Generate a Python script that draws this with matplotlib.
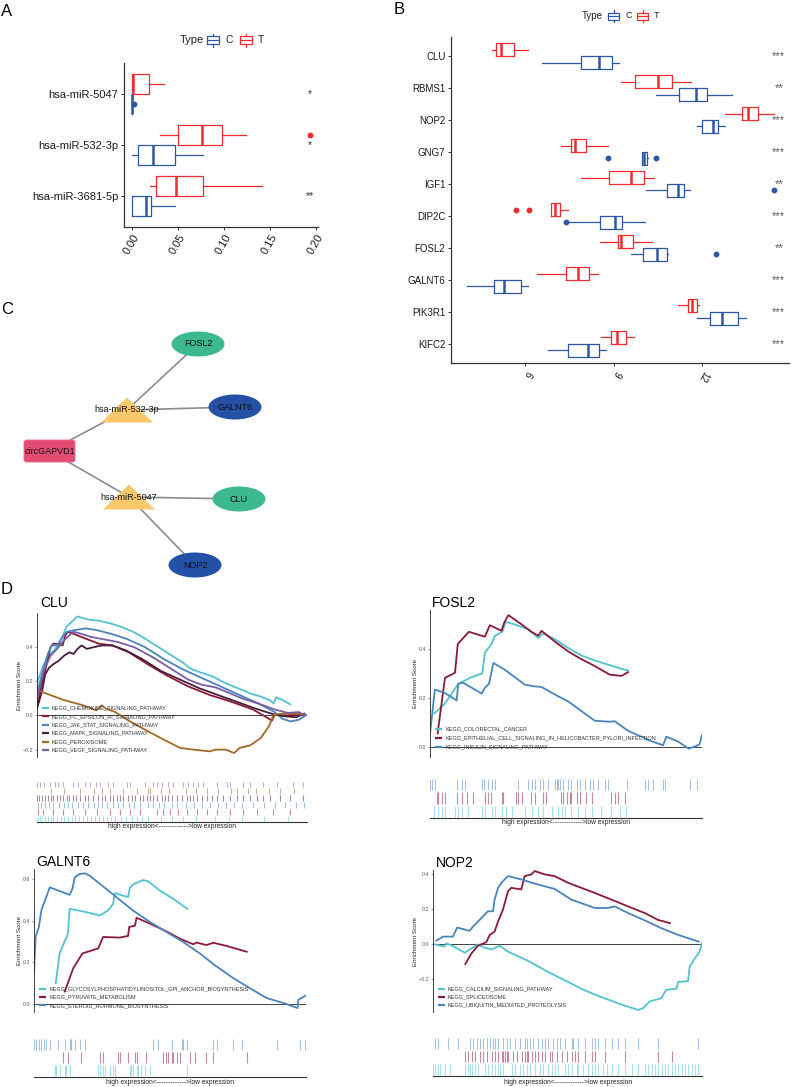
import matplotlib
matplotlib.use('Agg')
import matplotlib.pyplot as plt
from matplotlib.patches import Rectangle, Ellipse, Polygon, FancyBboxPatch

plt.rcParams['font.family'] = ['Liberation Sans', 'DejaVu Sans']
NARROW = ['Liberation Sans Narrow', 'Liberation Sans', 'DejaVu Sans']

# ---------------- DATA ----------------
# Panel A : five-number summaries [whislo, q1, median, q3, whishi]
A_MIRNAS = ['hsa-miR-5047', 'hsa-miR-532-3p', 'hsa-miR-3681-5p']
A_T = [[0.000, 0.000, 0.001, 0.018, 0.035],
       [0.030, 0.050, 0.076, 0.098, 0.124],
       [0.019, 0.026, 0.047, 0.077, 0.141]]
A_C = [[0.000, 0.000, 0.000, 0.000, 0.000],
       [0.000, 0.0065, 0.023, 0.046, 0.077],
       [0.000, 0.000, 0.015, 0.020, 0.046]]
A_T_OUT = [[], [0.193], []]
A_C_OUT = [[0.002], [], []]
A_SIG = ['*', '*', '**']
A_XTICKS = [0.00, 0.05, 0.10, 0.15, 0.20]
A_XLABELS = ['0.00', '0.05', '0.10', '0.15', '0.20']

# Panel B
B_GENES = ['CLU', 'RBMS1', 'NOP2', 'GNG7', 'IGF1', 'DIP2C', 'FOSL2', 'GALNT6', 'PIK3R1', 'KIFC2']
B_T = [[4.87, 5.01, 5.19, 5.63, 6.11],
       [9.24, 9.73, 10.52, 10.99, 11.63],
       [12.79, 13.34, 13.57, 13.90, 14.43],
       [7.23, 7.56, 7.69, 8.08, 8.82],
       [7.89, 8.86, 9.60, 10.05, 10.36],
       [6.87, 6.89, 7.03, 7.18, 7.47],
       [8.55, 9.16, 9.24, 9.66, 10.32],
       [6.40, 7.38, 7.81, 8.18, 8.46],
       [11.19, 11.54, 11.66, 11.84, 11.89],
       [8.59, 8.92, 9.11, 9.44, 9.68]]
B_C = [[6.56, 7.91, 8.51, 8.94, 9.20],
       [10.43, 11.23, 11.81, 12.18, 13.03],
       [11.82, 11.99, 12.38, 12.55, 12.77],
       [9.96, 9.98, 10.05, 10.14, 10.16],
       [10.09, 10.80, 11.20, 11.40, 11.58],
       [7.47, 8.55, 9.05, 9.29, 10.07],
       [9.59, 9.99, 10.46, 10.80, 10.86],
       [4.02, 4.94, 5.30, 5.85, 6.09],
       [11.82, 12.27, 12.69, 13.23, 13.49],
       [6.79, 7.45, 8.12, 8.50, 8.73]]
B_T_OUT = [[], [], [], [], [], [5.68, 6.14], [], [], [], []]
B_C_OUT = [[], [], [], [8.82, 10.43], [14.44], [7.40], [12.49], [], [], []]
B_SIG = ['***', '**', '***', '***', '**', '***', '**', '***', '***', '***']
B_XTICKS = [6, 9, 12]

# Panel C network
NET_NODES = ['circGAPVD1', 'hsa-miR-532-3p', 'hsa-miR-5047', 'FOSL2', 'GALNT6', 'CLU', 'NOP2']
NET_EDGES = [('circGAPVD1', 'hsa-miR-532-3p'), ('circGAPVD1', 'hsa-miR-5047'),
             ('hsa-miR-532-3p', 'FOSL2'), ('hsa-miR-532-3p', 'GALNT6'),
             ('hsa-miR-5047', 'CLU'), ('hsa-miR-5047', 'NOP2')]

# Panel D : GSEA running enrichment scores (x = rank position, % of list)
CLU_PATHWAYS = ['KEGG_CHEMOKINE_SIGNALING_PATHWAY', 'KEGG_FC_EPSILON_RI_SIGNALING_PATHWAY',
                'KEGG_JAK_STAT_SIGNALING_PATHWAY', 'KEGG_MAPK_SIGNALING_PATHWAY',
                'KEGG_PEROXISOME', 'KEGG_VEGF_SIGNALING_PATHWAY']
CLU_CHEMOKINE_X = [0, 2.5, 5, 8.4, 10.9, 13, 14.9, 17, 19.6, 23, 27, 31, 35.6, 39, 43, 47, 50.5, 54, 56.7, 60, 65.3, 69, 72.8, 76, 79, 83, 86.4, 87.6, 88.6, 91, 93.8]
CLU_CHEMOKINE_ES = [0.19, 0.30, 0.36, 0.42, 0.52, 0.55, 0.58, 0.57, 0.56, 0.555, 0.54, 0.52, 0.49, 0.46, 0.42, 0.38, 0.345, 0.31, 0.276, 0.255, 0.227, 0.195, 0.169, 0.15, 0.129, 0.11, 0.088, 0.07, 0.106, 0.09, 0.065]
CLU_FC_X = [0, 2, 3, 5, 6, 8.5, 9.5, 10.5, 11.5, 14, 18, 23, 28, 34, 41, 48, 56, 64, 72, 80, 86, 87, 88, 92, 96, 99]
CLU_FC_ES = [0.05, 0.20, 0.26, 0.40, 0.42, 0.42, 0.41, 0.47, 0.49, 0.475, 0.45, 0.42, 0.41, 0.37, 0.30, 0.235, 0.17, 0.12, 0.08, 0.035, -0.02, -0.03, 0.005, 0.0, 0.005, 0.01]
CLU_JAK_X = [0, 2, 4, 5.5, 7.5, 9, 11, 14, 18, 22, 27, 33, 40, 47, 54, 61, 68, 75, 82, 88, 91, 94, 97, 99, 100]
CLU_JAK_ES = [0.13, 0.25, 0.36, 0.41, 0.41, 0.45, 0.49, 0.50, 0.51, 0.50, 0.48, 0.45, 0.40, 0.33, 0.27, 0.22, 0.17, 0.12, 0.07, 0.02, -0.02, -0.035, -0.025, -0.005, 0.005]
CLU_MAPK_X = [0, 2, 3, 4.5, 6, 8, 10, 12, 13.5, 15, 16.5, 18.5, 21, 24, 28, 33, 39, 46, 53, 60, 67, 74, 81, 88, 92, 96, 99]
CLU_MAPK_ES = [0.04, 0.15, 0.24, 0.28, 0.30, 0.32, 0.35, 0.37, 0.36, 0.39, 0.41, 0.39, 0.40, 0.41, 0.41, 0.38, 0.33, 0.26, 0.21, 0.16, 0.12, 0.08, 0.04, 0.005, -0.005, -0.01, 0.01]
CLU_PEROX_X = [1.5, 10, 17, 22, 24, 25.5, 29, 35, 42, 48, 53, 58, 64, 66, 70, 73, 75, 79, 83, 86, 87.5, 90, 95, 99]
CLU_PEROX_ES = [0.14, 0.09, 0.06, 0.03, 0.06, 0.04, 0.02, -0.04, -0.10, -0.15, -0.19, -0.20, -0.21, -0.20, -0.20, -0.22, -0.19, -0.175, -0.13, -0.06, 0.0, 0.01, 0.01, 0.005]
CLU_VEGF_X = [0, 2.5, 5, 8, 10, 12, 13.5, 16, 20, 25, 30, 36, 43, 50, 56, 61, 66, 70, 76, 82, 88, 93, 97, 99]
CLU_VEGF_ES = [0.10, 0.26, 0.35, 0.40, 0.44, 0.47, 0.49, 0.48, 0.46, 0.445, 0.43, 0.40, 0.34, 0.27, 0.21, 0.18, 0.165, 0.14, 0.10, 0.07, 0.035, 0.015, 0.02, 0.0]
CLU_CHEMOKINE_HITS = [0.2, 1, 2, 3, 4, 5, 6, 7.5, 9, 10, 11.5, 13, 14, 15.5, 17, 18.5, 20, 21.5, 23, 24.5, 26, 27.5, 29, 31, 33, 35, 37, 39, 41, 46, 50, 54, 59, 66, 71, 76, 84, 93]
CLU_FC_HITS = [0.5, 2.3, 6.0, 9.8, 13.5, 17.8, 22.1, 27.0, 30.7, 34.4, 38.1, 44.3, 46.8, 49.3, 52.3, 55.4, 59.1, 62.8, 66.5, 71.5, 76.4, 81.4, 87.5, 93.7]
CLU_JAK_HITS = [0.5, 1.5, 3, 4.5, 6, 8, 10, 11.5, 13, 15, 17, 19, 21, 22.5, 24, 26, 28, 30, 32, 34, 36, 38, 41, 43, 45, 47, 50, 52, 55, 58, 61, 64, 67, 70, 73, 76, 80, 84, 88, 92, 96, 99]
CLU_MAPK_HITS = [0.1, 0.9, 1.7, 3.0, 4.2, 5.1, 6.0, 7.3, 8.5, 9.8, 11.0, 12.0, 13.5, 14.4, 15.9, 17.8, 19.0, 20.9, 22.7, 24.0, 25.2, 27.0, 28.3, 29.8, 30.7, 32.0, 33.8, 35.1, 36.3, 38.1, 39.4, 40.6, 41.9, 43.1, 44.3, 46.2, 47.4, 48.6, 49.9, 51.7, 53.6, 55.4, 56.7, 57.9, 59.1, 61.0, 62.8, 64.7, 66.5, 69.0, 71.5, 74.0, 76.4, 78.9, 81.4, 83.8, 86.3, 90.0, 93.7, 98.6]
CLU_PEROX_HITS = [5, 10, 16, 21, 24, 27, 32, 37, 41, 42, 46, 49, 55, 59, 63, 67, 72, 74, 78, 81, 86, 90, 95, 100]
CLU_VEGF_HITS = [0.1, 1.1, 2.6, 4.8, 6.7, 7.9, 9.8, 13.5, 15.3, 17.8, 19.6, 21.9, 23.3, 26.4, 28.3, 33.2, 34.4, 40, 43.1, 44.3, 46.2, 48.6, 50.5, 54.2, 56, 57.9, 59.7, 61.6, 66.5, 70.2, 71.5, 76.4, 78.9, 83.8, 88.8, 94.9, 98.6, 99.9]

FOSL2_PATHWAYS = ['KEGG_COLORECTAL_CANCER',
                  'KEGG_EPITHELIAL_CELL_SIGNALING_IN_HELICOBACTER_PYLORI_INFECTION',
                  'KEGG_INSULIN_SIGNALING_PATHWAY']
FOSL2_CRC_X = [1.6, 5.5, 10.4, 15.3, 19.2, 20.2, 22.6, 23.9, 26.6, 27.8, 31.2, 36.1, 39.8, 41.6, 45.9, 50.8, 55.7, 60.6, 65.5, 70.4, 72.8]
FOSL2_CRC_ES = [0.137, 0.177, 0.258, 0.285, 0.30, 0.386, 0.42, 0.454, 0.47, 0.51, 0.50, 0.48, 0.445, 0.464, 0.44, 0.404, 0.373, 0.353, 0.336, 0.319, 0.312]
FOSL2_EPI_X = [2.8, 5.5, 9.2, 10.2, 14.3, 20.2, 22.0, 26.3, 27.3, 28.8, 33.7, 37.3, 39.8, 41.0, 45.9, 50.8, 55.7, 60.6, 66.1, 70.4, 72.8]
FOSL2_EPI_ES = [0.055, 0.282, 0.303, 0.42, 0.47, 0.45, 0.497, 0.474, 0.508, 0.538, 0.50, 0.47, 0.454, 0.474, 0.43, 0.39, 0.358, 0.33, 0.295, 0.29, 0.305]
FOSL2_INS_X = [0, 1.8, 5.5, 9.8, 10.4, 12.2, 19.0, 20.2, 21.7, 23.3, 27.5, 34.9, 38.6, 41.0, 45.9, 50.8, 55.7, 60.6, 66.1, 67.9, 72.8, 77.7, 80.2, 85.7, 86.9, 91.2, 95.1, 97.9, 99.1, 100]
FOSL2_INS_ES = [0.055, 0.234, 0.22, 0.19, 0.258, 0.262, 0.218, 0.242, 0.258, 0.343, 0.315, 0.254, 0.247, 0.245, 0.214, 0.186, 0.146, 0.107, 0.103, 0.105, 0.066, 0.042, 0.028, 0.007, 0.042, 0.022, -0.007, 0.004, 0.011, 0.049]
FOSL2_CRC_HITS = [1.6, 3, 4.3, 5.5, 9.2, 10.4, 11.6, 14, 19, 20.2, 22.7, 23.9, 26.3, 27.8, 30, 35, 37.4, 39.8, 41.6, 44.7, 47.2, 48.4, 49.6, 52, 54.5, 57, 59.4, 63, 66.7, 70, 72]
FOSL2_EPI_HITS = [2.4, 3, 4.3, 5.5, 9.8, 11.6, 13.5, 15.9, 20.2, 21.4, 22.6, 26.3, 26.9, 31.8, 32.4, 33.7, 37.3, 38.6, 41.6, 42.8, 48.3, 49, 50.2, 51.4, 52, 53.9, 55, 57.5, 59.4, 66.7, 67.9, 69.2, 71.6]
FOSL2_INS_HITS = [0, 0.6, 1.8, 9.8, 11.6, 12.9, 19, 20, 21.5, 22.7, 23.9, 32.5, 36, 37.4, 38.6, 40.4, 41.7, 43.5, 46, 46.6, 47.2, 47.8, 49, 50.9, 52, 53.9, 55, 57, 58.8, 60, 61.9, 64.3, 65.6, 72.3, 79, 80.3, 82, 85.8, 86.4, 95.6, 98, 100]

GALNT6_PATHWAYS = ['KEGG_GLYCOSYLPHOSPHATIDYLINOSITOL_GPI_ANCHOR_BIOSYNTHESIS',
                   'KEGG_PYRUVATE_METABOLISM', 'KEGG_STEROID_HORMONE_BIOSYNTHESIS']
GALNT6_GPI_X = [8.0, 9.4, 12.5, 13.1, 19.3, 24.2, 27.2, 29.1, 29.7, 34.6, 35.2, 36.7, 40.1, 42.0, 46.3, 51.2, 56.4]
GALNT6_GPI_ES = [0.10, 0.243, 0.338, 0.457, 0.441, 0.425, 0.449, 0.481, 0.532, 0.513, 0.557, 0.576, 0.595, 0.589, 0.544, 0.505, 0.457]
GALNT6_PYR_X = [11.3, 14.4, 17.8, 23.6, 25.4, 31.5, 34.6, 35.0, 37.1, 37.7, 42.6, 48.7, 53.6, 58.5, 59.8, 63.4, 65.9, 70.8, 78.2]
GALNT6_PYR_ES = [0.06, 0.171, 0.243, 0.267, 0.322, 0.319, 0.327, 0.37, 0.376, 0.414, 0.386, 0.349, 0.314, 0.287, 0.295, 0.283, 0.294, 0.279, 0.251]
GALNT6_STE_X = [0, 0.6, 1.8, 2.7, 5.8, 13.1, 14.1, 15.0, 16.8, 18.7, 20.5, 30.3, 36.4, 42.6, 48.7, 54.8, 61.0, 65.9, 73.3, 79.4, 85.5, 91.7, 96.9, 97.2, 100]
GALNT6_STE_ES = [0.148, 0.322, 0.37, 0.449, 0.56, 0.524, 0.552, 0.608, 0.624, 0.627, 0.616, 0.513, 0.449, 0.394, 0.346, 0.298, 0.243, 0.192, 0.124, 0.076, 0.029, 0.005, -0.019, 0.021, 0.041]
GALNT6_GPI_HITS = [7.6, 8.2, 9.4, 11.3, 11.9, 13.1, 23.6, 24.2, 25.4, 26, 27.9, 29.1, 29.7, 35.2, 35.8, 36.4, 37.7, 38.3, 39.5, 40.7, 42.6, 56.1]
GALNT6_PYR_HITS = [10.7, 12.5, 17.4, 24.2, 25.4, 30.9, 31.5, 34.6, 37.1, 37.7, 41.3, 47.5, 48.7, 49.3, 50.6, 51.2, 52.4, 53.6, 57.3, 59.1, 63.4, 65.9, 78.2]
GALNT6_STE_HITS = [0, 0.9, 1.8, 2.7, 3.7, 4.5, 5.8, 8.8, 11.3, 13.1, 13.7, 15, 16.8, 18.7, 43.8, 45.6, 50.6, 54.3, 54.8, 56.1, 65.9, 67.1, 73.3, 76.3, 89.2, 97.8, 99.6]

NOP2_PATHWAYS = ['KEGG_CALCIUM_SIGNALING_PATHWAY', 'KEGG_SPLICEOSOME',
                 'KEGG_UBIQUITIN_MEDIATED_PROTEOLYSIS']
NOP2_CAL_X = [0, 4.3, 5.0, 7.4, 11.8, 14.3, 16.7, 19.2, 21.7, 24.8, 27.9, 35.3, 42.8, 50.2, 56.4, 62.6, 70.0, 76.2, 78.1, 80.5, 84.9, 86.7, 90.5, 91.1, 94.8, 95.4, 97.3, 99.1, 100]
NOP2_CAL_ES = [0, -0.015, 0.004, -0.012, -0.05, -0.025, -0.002, -0.021, -0.031, -0.01, -0.044, -0.096, -0.16, -0.217, -0.265, -0.304, -0.346, -0.377, -0.367, -0.329, -0.31, -0.262, -0.256, -0.217, -0.213, -0.131, -0.083, -0.044, 0.004]
NOP2_SPL_X = [12.0, 14.3, 16.7, 19.8, 21.1, 22.9, 24.2, 26.0, 27.9, 29.1, 32.8, 34.1, 36.6, 37.8, 41.5, 45.2, 50.2, 55.1, 60.1, 66.3, 72.5, 78.7, 83.6, 88.1]
NOP2_SPL_ES = [-0.115, -0.054, -0.01, 0.01, 0.052, 0.071, 0.129, 0.196, 0.302, 0.321, 0.312, 0.388, 0.398, 0.417, 0.398, 0.388, 0.35, 0.321, 0.292, 0.254, 0.215, 0.177, 0.138, 0.119]
NOP2_UBQ_X = [1.2, 3.7, 7.4, 9.0, 13.6, 14.9, 18.0, 20.4, 22.3, 22.9, 24.2, 25.4, 27.9, 32.8, 39.0, 45.2, 51.4, 60.1, 65.1, 67.5, 72.5, 78.7, 84.9, 91.1, 98.8]
NOP2_UBQ_ES = [0.019, 0.042, 0.042, 0.094, 0.075, 0.10, 0.148, 0.187, 0.187, 0.254, 0.321, 0.35, 0.388, 0.369, 0.34, 0.315, 0.254, 0.206, 0.206, 0.215, 0.177, 0.135, 0.09, 0.052, 0.013]
NOP2_CAL_HITS = [0.1, 0.7, 2.0, 2.6, 4.5, 6.3, 11.9, 13.1, 13.8, 14.4, 15.6, 16.9, 19.3, 20.6, 21.8, 23.0, 24.3, 24.9, 26.1, 29.2, 30.5, 32.3, 33.6, 34.8, 36.1, 37.9, 39.8, 41.0, 42.9, 44.1, 45.4, 46.6, 49.1, 50.3, 51.5, 53.4, 54.0, 55.9, 57.7, 59.0, 60.2, 61.5, 63.3, 64.6, 66.4, 68.9, 71.4, 73.9, 76.3, 78.8, 80.0, 81.3, 82.5, 83.8, 85.0, 86.2, 87.5, 88.7, 90.0, 91.2, 92.4, 93.7, 94.9, 96.2, 97.4, 98.6, 99.9]
NOP2_SPL_HITS = [11.9, 13.1, 14.4, 15.6, 17.5, 18.7, 20.0, 21.8, 23.0, 24.3, 25.5, 26.1, 26.8, 27.4, 28.0, 29.9, 31.1, 33.0, 34.2, 34.8, 35.4, 36.7, 37.9, 39.2, 40.4, 41.6, 43.5, 44.1, 46.0, 47.8, 49.7, 51.5, 52.8, 54.0, 56.5, 59.0, 60.2, 63.9, 71.4, 83.8, 88.7]
NOP2_UBQ_HITS = [0.7, 2.0, 5.7, 9.4, 13.8, 15.0, 16.2, 17.5, 18.7, 20.0, 21.2, 22.4, 23.0, 24.3, 26.1, 27.4, 28.6, 30.5, 32.3, 34.2, 34.8, 36.1, 37.3, 39.2, 40.4, 41.6, 42.9, 44.7, 46.0, 47.2, 49.1, 51.5, 52.2, 54.0, 56.5, 59.0, 60.2, 61.5, 63.9, 66.4, 68.9, 71.4, 76.3, 83.8, 98.6]

# ---------------- STYLE / LAYOUT ----------------
W, H = 791, 1087
fig = plt.figure(figsize=(W / 100, H / 100), dpi=100)

C_BLUE = '#2E56A6'
C_RED = '#EE2B30'
G_CYAN = '#52C3D1'
G_DRED = '#8A1B36'
G_STEEL = '#4A84BC'
G_DPURP = '#4B1C40'
G_BROWN = '#A56826'
G_PURP = '#7B5CA8'


def add_ax(x0, y0, x1, y1, **kw):
    return fig.add_axes([x0 / W, 1 - y1 / H, (x1 - x0) / W, (y1 - y0) / H], **kw)


def draw_box(ax, summ, outl, pos, col):
    st = dict(whislo=summ[0], q1=summ[1], med=summ[2], q3=summ[3], whishi=summ[4], fliers=outl)
    ax.bxp([st], positions=[pos], widths=0.4, orientation='horizontal', showcaps=False,
           boxprops=dict(color=col, lw=0.9), whiskerprops=dict(color=col, lw=0.9),
           medianprops=dict(color=col, lw=1.8, solid_capstyle='butt'),
           flierprops=dict(marker='o', markerfacecolor=col, markeredgecolor=col, markersize=3.2))


def style_box_axes(ax):
    for s in ('top', 'right'):
        ax.spines[s].set_visible(False)
    for s in ('left', 'bottom'):
        ax.spines[s].set_color('#333333')
        ax.spines[s].set_linewidth(0.9)
    ax.tick_params(length=2.5, width=0.7, color='#333333', pad=1.5)


# ---- Panel A ----
axA = add_ax(124, 63, 318, 227)
posA = [3, 2, 1]
for i in range(len(A_MIRNAS)):
    draw_box(axA, A_T[i], A_T_OUT[i], posA[i] + 0.2, C_RED)
    draw_box(axA, A_C[i], A_C_OUT[i], posA[i] - 0.2, C_BLUE)
    axA.text(0.193, posA[i], A_SIG[i], ha='center', va='center', fontsize=7.5, color='#333333')
axA.set_xlim(-0.009, 0.2018)
axA.set_ylim(0.39, 3.61)
axA.set_yticks(posA)
axA.set_yticklabels(A_MIRNAS, fontsize=8, color='#1a1a1a')
axA.set_xticks(A_XTICKS)
axA.set_xticklabels(A_XLABELS, rotation=60, ha='right', va='top', rotation_mode='anchor',
                    fontsize=8, color='#1a1a1a')
style_box_axes(axA)

# ---- Panel B ----
axB = add_ax(451, 37, 789, 363)
posB = list(range(len(B_GENES), 0, -1))
for i in range(len(B_GENES)):
    draw_box(axB, B_T[i], B_T_OUT[i], posB[i] + 0.2, C_RED)
    draw_box(axB, B_C[i], B_C_OUT[i], posB[i] - 0.2, C_BLUE)
    axB.text(14.6, posB[i], B_SIG[i], ha='center', va='center', fontsize=8, color='#555555')
axB.set_xlim(3.49, 14.95)
axB.set_ylim(0.4, len(B_GENES) + 0.6)
axB.set_yticks(posB)
axB.set_yticklabels(B_GENES, fontsize=7, color='#1a1a1a')
axB.set_xticks(B_XTICKS)
axB.set_xticklabels([str(v) for v in B_XTICKS], rotation=240, ha='left', va='bottom',
                    rotation_mode='anchor', fontsize=7, color='#1a1a1a')
style_box_axes(axB)


# ---- Panel D : GSEA ----
def gsea(main_box, rug_box, ylim, yticks, curves, hits, colors, lab_x):
    ax = add_ax(*main_box)
    for (xs, ys), c in zip(curves, colors):
        ax.plot(xs, ys, color=c, lw=1.3, solid_joinstyle='round')
    ax.axhline(0, color='#222222', lw=0.6, zorder=0)
    ax.set_xlim(0, 100)
    ax.set_ylim(*ylim)
    ax.set_xticks([])
    ax.set_yticks(yticks)
    ax.set_yticklabels([('%.1f' % v).replace('-', '\u2212') for v in yticks], fontsize=3.8, color='#555555')
    ax.tick_params(axis='y', length=1.5, width=0.4, pad=1, color='#555555')
    for s in ('top', 'right', 'bottom'):
        ax.spines[s].set_visible(False)
    ax.spines['left'].set_linewidth(0.6)
    ax.spines['left'].set_color('#222222')
    ax.set_ylabel('Enrichment Score', fontsize=4.5, color='#222222')
    ax.yaxis.set_label_coords(lab_x, 0.5)
    ax.patch.set_alpha(0)

    rx = add_ax(*rug_box)
    n = len(hits)
    for i, (h, c) in enumerate(zip(hits, colors)):
        row = i  # first pathway at bottom
        rx.vlines(h, row + 0.08, row + 0.92, color=c, lw=0.8, alpha=0.5)
    rx.set_xlim(0, 100)
    rx.set_ylim(0, n)
    rx.set_xticks([])
    rx.set_yticks([])
    for s in ('top', 'right', 'left'):
        rx.spines[s].set_visible(False)
    rx.spines['bottom'].set_linewidth(0.8)
    rx.spines['bottom'].set_color('#333333')
    rx.patch.set_alpha(0)
    return ax


CLU_COLORS = [G_CYAN, G_DRED, G_STEEL, G_DPURP, G_BROWN, G_PURP]
gsea((37, 613, 307, 757), (37, 781, 307, 822), (-0.243, 0.6), [-0.2, 0.0, 0.2, 0.4],
     [(CLU_CHEMOKINE_X, CLU_CHEMOKINE_ES), (CLU_FC_X, CLU_FC_ES), (CLU_JAK_X, CLU_JAK_ES),
      (CLU_MAPK_X, CLU_MAPK_ES), (CLU_PEROX_X, CLU_PEROX_ES), (CLU_VEGF_X, CLU_VEGF_ES)],
     [CLU_CHEMOKINE_HITS, CLU_FC_HITS, CLU_JAK_HITS, CLU_MAPK_HITS, CLU_PEROX_HITS, CLU_VEGF_HITS],
     CLU_COLORS, -0.056)

F_COLORS = [G_CYAN, G_DRED, G_STEEL]
gsea((430, 610, 702, 757), (430, 778, 702, 818), (-0.041, 0.559), [0.0, 0.2, 0.4],
     [(FOSL2_CRC_X, FOSL2_CRC_ES), (FOSL2_EPI_X, FOSL2_EPI_ES), (FOSL2_INS_X, FOSL2_INS_ES)],
     [FOSL2_CRC_HITS, FOSL2_EPI_HITS, FOSL2_INS_HITS], F_COLORS, -0.044)

gsea((34, 869, 306, 1012), (34, 1038, 306, 1077), (-0.038, 0.648), [0.0, 0.2, 0.4, 0.6],
     [(GALNT6_GPI_X, GALNT6_GPI_ES), (GALNT6_PYR_X, GALNT6_PYR_ES), (GALNT6_STE_X, GALNT6_STE_ES)],
     [GALNT6_GPI_HITS, GALNT6_PYR_HITS, GALNT6_STE_HITS], F_COLORS, -0.044)

gsea((433, 870, 702, 1012), (433, 1037, 702, 1076), (-0.389, 0.423), [-0.2, 0.0, 0.2, 0.4],
     [(NOP2_CAL_X, NOP2_CAL_ES), (NOP2_SPL_X, NOP2_SPL_ES), (NOP2_UBQ_X, NOP2_UBQ_ES)],
     [NOP2_CAL_HITS, NOP2_SPL_HITS, NOP2_UBQ_HITS], F_COLORS, -0.056)

# ---------------- overlay (pixel coords) ----------------
ov = fig.add_axes([0, 0, 1, 1], zorder=10)
ov.set_xlim(0, W)
ov.set_ylim(H, 0)
ov.axis('off')
ov.patch.set_alpha(0)

# panel letters
for lab, (x, y) in zip('ABCD', [(1, 11), (394, 9), (1, 310), (1, 590)]):
    ov.text(x, y, lab, fontsize=12, family=NARROW, ha='left', va='center', color='black')


# legends "Type"
def type_legend(x_type, y, x_keys, x_texts, fs, kw, kh):
    ov.text(x_type, y, 'Type', fontsize=fs, ha='left', va='center', color='#222222')
    for xk, xt, col, lab in zip(x_keys, x_texts, (C_BLUE, C_RED), ('C', 'T')):
        ov.add_patch(Rectangle((xk, y - kh / 2), kw, kh, fill=False, ec=col, lw=0.9))
        ov.plot([xk, xk + kw], [y, y], color=col, lw=0.9)
        ov.plot([xk + kw / 2, xk + kw / 2], [y - kh / 2 - 2.5, y - kh / 2], color=col, lw=0.9)
        ov.plot([xk + kw / 2, xk + kw / 2], [y + kh / 2, y + kh / 2 + 2.5], color=col, lw=0.9)
        ov.text(xt, y, lab, fontsize=fs - 0.5, ha='left', va='center', color='#222222')


type_legend(180, 40, (207, 240), (226, 258), 8, 12, 8)
type_legend(582, 16, (608, 637), (625, 654), 7, 11, 7)

# ---- Panel C network ----
NODE_POS = {'circGAPVD1': (49.5, 451), 'hsa-miR-532-3p': (127, 410), 'hsa-miR-5047': (129, 497),
            'FOSL2': (198, 344), 'GALNT6': (235, 407), 'CLU': (239, 499), 'NOP2': (195, 565)}
NODE_KIND = {'circGAPVD1': 'rect', 'hsa-miR-532-3p': 'tri', 'hsa-miR-5047': 'tri',
             'FOSL2': 'green', 'GALNT6': 'blue', 'CLU': 'green', 'NOP2': 'blue'}
for a, b in NET_EDGES:
    (x1, y1), (x2, y2) = NODE_POS[a], NODE_POS[b]
    ov.plot([x1, x2], [y1, y2], color='#8C8C8C', lw=1.2, zorder=1)
for nm in NET_NODES:
    x, y = NODE_POS[nm]
    kind = NODE_KIND[nm]
    if kind == 'rect':
        ov.add_patch(FancyBboxPatch((x - 25.5, y - 11), 51, 22, boxstyle='round,pad=0,rounding_size=2.5',
                                    fc='#E34C72', ec='#E86A8A', lw=0.6, zorder=2))
    elif kind == 'tri':
        ov.add_patch(Polygon([(x, y - 12.5), (x - 26, y + 12.5), (x + 26, y + 12.5)], closed=True,
                             fc='#F8C86A', ec='none', zorder=2))
    else:
        fc = '#3DB991' if kind == 'green' else '#2450A6'
        ov.add_patch(Ellipse((x, y), 53, 25, fc=fc, ec='none', zorder=2))
    ov.text(x, y, nm, fontsize=6.5, ha='center', va='center', color='#111111', zorder=3)

# ---- GSEA titles, legends and axis captions ----
ov.text(40, 603, 'CLU', fontsize=10, family=NARROW, ha='left', va='center')
ov.text(432, 603, 'FOSL2', fontsize=10, family=NARROW, ha='left', va='center')
ov.text(36, 862, 'GALNT6', fontsize=10, family=NARROW, ha='left', va='center')
ov.text(436, 863, 'NOP2', fontsize=10, family=NARROW, ha='left', va='center')


def gsea_legend(x0, y0, dy, names, colors):
    for i, (nm, c) in enumerate(zip(names, colors)):
        y = y0 + i * dy
        ov.plot([x0, x0 + 6.5], [y, y], color=c, lw=1.6, solid_capstyle='butt')
        ov.text(x0 + 10, y, nm, fontsize=4, ha='left', va='center', color='#333333')


gsea_legend(42, 708, 8.4, CLU_PATHWAYS, CLU_COLORS)
gsea_legend(435, 729, 9, FOSL2_PATHWAYS, F_COLORS)
gsea_legend(39, 989, 8.2, GALNT6_PATHWAYS, F_COLORS)
gsea_legend(438, 989, 8.2, NOP2_PATHWAYS, F_COLORS)

CAPTION = 'high expression<------------->low expression'
for x, y in [(172, 827), (566, 823), (170, 1082), (568, 1082)]:
    ov.text(x, y, CAPTION, fontsize=4.8, ha='center', va='center', color='#222222')

fig.savefig('out.png', dpi=100)
